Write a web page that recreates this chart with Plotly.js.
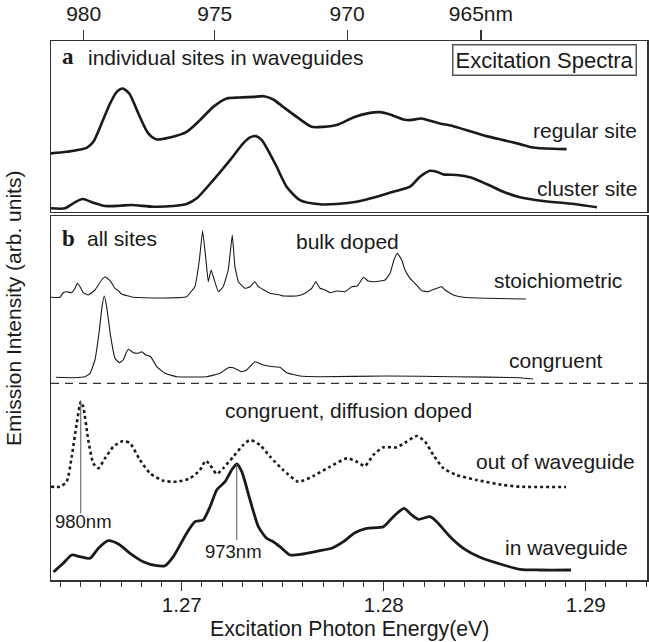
<!DOCTYPE html>
<html>
<head>
<meta charset="utf-8">
<script src="https://cdn.plot.ly/plotly-3.0.1.min.js"></script>
<style>html,body{margin:0;padding:0;background:#fff}#chart{width:649px;height:642px}</style>
</head>
<body>
<div id="chart"></div>
<script>
// ---- data (photon energy in eV, intensity in arbitrary units) ----
const regularE = [1.26352,1.26430,1.26529,1.26562,1.26603,1.26645,1.26678,1.26707,1.26740,1.26785,1.26834,1.26876,1.26942,1.27024,1.27090,1.27156,1.27222,1.27288,1.27354,1.27407,1.27453,1.27502,1.27569,1.27643,1.27700,1.27775,1.27849,1.27932,1.27981,1.28031,1.28097,1.28130,1.28188,1.28229,1.28278,1.28344,1.28427,1.28509,1.28592,1.28674,1.28736,1.28839,1.28905];
const regularSite = [58.2,59.8,63.8,69.8,88.2,108.2,119.8,123.2,118.2,98.2,78.2,72.2,74.2,79.8,91.5,104.8,113.2,114.2,114.8,115.5,112.2,104.8,94.8,84.8,84.8,87.2,94.2,98.8,99.5,97.2,92.2,91.5,93.2,90.8,88.2,85.5,80.5,75.5,71.5,67.5,64.2,62.8,62.5];

const clusterE = [1.26352,1.26422,1.26463,1.26509,1.26562,1.26620,1.26694,1.26752,1.26859,1.26958,1.27024,1.27074,1.27156,1.27239,1.27304,1.27338,1.27367,1.27396,1.27437,1.27470,1.27519,1.27585,1.27684,1.27767,1.27866,1.27965,1.28047,1.28130,1.28179,1.28229,1.28262,1.28295,1.28361,1.28427,1.28509,1.28592,1.28674,1.28777,1.28942,1.29055];
const clusterSite = [3.2,3.2,8.2,12.5,8.8,5.5,5.8,6.5,4.8,5.5,7.5,13.2,31.5,51.5,68.2,74.2,75.5,71.5,57.5,44.8,24.8,11.5,7.2,7.5,9.8,14.8,19.8,24.8,34.8,40.8,39.8,37.2,36.5,34.2,27.5,19.8,14.2,10.8,7.5,4.2];

const stoichE = [1.26352,1.26397,1.26413,1.26430,1.26455,1.26471,1.26483,1.26496,1.26512,1.26537,1.26570,1.26603,1.26620,1.26645,1.26669,1.26686,1.26702,1.26760,1.26876,1.27024,1.27049,1.27065,1.27087,1.27103,1.27118,1.27131,1.27145,1.27156,1.27181,1.27205,1.27230,1.27250,1.27263,1.27280,1.27313,1.27338,1.27362,1.27379,1.27407,1.27437,1.27486,1.27502,1.27569,1.27610,1.27643,1.27664,1.27684,1.27709,1.27734,1.27767,1.27808,1.27841,1.27869,1.27899,1.27923,1.27956,1.28006,1.28031,1.28050,1.28067,1.28089,1.28105,1.28130,1.28154,1.28188,1.28220,1.28262,1.28287,1.28303,1.28344,1.28394,1.28509,1.28704];
const stoichiometric = [282.7,282.7,287.3,288.3,287.3,291.7,296.7,293.3,287.3,285,290,300,303.3,299.3,291.7,289.3,286,282.7,282,283.3,289,293.3,320,349.3,323.3,298.3,310,303.3,288.3,293.3,310,345,313.3,298.3,291.7,293.3,298.3,293.3,290,286.7,285,284,284,286.7,291.7,298.3,291.7,290,287.3,289,288.3,293.3,294,302.7,299,298.3,300,306.7,320,326.7,320,310,301.7,296.7,289.3,288.3,291.7,293.3,290,285,282.7,281.7,281];

const congruentE = [1.26377,1.26463,1.26521,1.26546,1.26570,1.26592,1.26605,1.26616,1.26628,1.26648,1.26669,1.26691,1.26710,1.26727,1.26737,1.26760,1.26785,1.26801,1.26823,1.26846,1.26876,1.26917,1.26975,1.27123,1.27189,1.27230,1.27255,1.27297,1.27321,1.27362,1.27403,1.27453,1.27486,1.27519,1.27585,1.27684,1.28014,1.28344,1.28674,1.28739];
const congruent = [202.7,202.3,203.3,206.7,220,250,273.3,284,273.3,243.3,221.7,217.3,220,228.3,230.7,227.3,226.7,228.3,225,223.3,213.3,206.7,203.3,203.3,206.7,212.3,212.3,208.3,210,218.3,215,213.3,212.7,207.3,204,203.3,204,203.3,202.3,201];

const outE = [1.26352,1.26397,1.26430,1.26455,1.26480,1.26500,1.26512,1.26537,1.26562,1.26587,1.26620,1.26661,1.26710,1.26744,1.26793,1.26843,1.26908,1.26975,1.27041,1.27090,1.27118,1.27140,1.27173,1.27205,1.27255,1.27304,1.27338,1.27387,1.27437,1.27502,1.27577,1.27651,1.27734,1.27819,1.27866,1.27907,1.27948,1.27998,1.28064,1.28113,1.28163,1.28204,1.28245,1.28295,1.28361,1.28460,1.28592,1.28674,1.28902];
const outOfWaveguide = [93.3,93.3,98.3,123.3,156.7,178.3,173.3,140,116.7,111.7,121.7,133.3,139,136.7,120,106.7,99.3,98.3,101.7,110,119.3,115,106,111.7,123.3,135,140,135,123.3,110,98.3,104,113.3,121.7,118.3,114,125,132.7,132.7,138.3,144,138.3,125,111.7,105,100,95,93.3,93];

const inE = [1.26365,1.26413,1.26455,1.26496,1.26546,1.26587,1.26636,1.26686,1.26744,1.26809,1.26876,1.26917,1.26958,1.27024,1.27065,1.27106,1.27140,1.27173,1.27214,1.27247,1.27272,1.27297,1.27338,1.27379,1.27420,1.27453,1.27486,1.27536,1.27601,1.27684,1.27742,1.27800,1.27857,1.27915,1.27998,1.28047,1.28100,1.28138,1.28171,1.28229,1.28262,1.28328,1.28394,1.28476,1.28592,1.28674,1.28773,1.28927];
const inWaveguide = [8,16.7,25,23.3,21.7,31.7,39.3,36,26.7,18.3,14.3,14.3,23.3,46.7,58.3,60,73.3,90,98.3,110,116,108.3,80,53.3,41.7,38.3,33.3,25,26,29.3,31.7,38.3,47.3,51.7,53.3,63.3,71.7,65,60.7,63.3,58.3,43.3,31.7,22.7,15,10.7,10,10];

// wavelength ticks on the top axis (nm)
const nmTicks = [980, 975, 970, 965];
const nmTickText = ['980', '975', '970', '965nm'];
const HC = 1239.84; // eV*nm

// marked peaks
const peakLabels = ['980nm', '973nm'];
const peakEnergy = [1.26500, 1.27272];
const peakTop = [178.3, 116];
const peakBottom = [66.7, 40];

const xRange = [1.263525, 1.29303];

// ---- layout helpers ----
const L = 51, T = 41, W = 596, H = 539;
const px = v => (v - L) / W;
const py = v => (T + H - v) / H;
const FONT = 'Liberation Sans, Arial, Helvetica, sans-serif';
const ink = '#1a1a1a';

function label(text, x, y, xanchor, size, extra) {
  return Object.assign({
    text: text, xref: 'paper', yref: 'paper', x: px(x), y: py(y),
    xanchor: xanchor, yanchor: 'middle', showarrow: false,
    font: {family: FONT, size: size || 21, color: ink}
  }, extra || {});
}

const thick = {color: ink, width: 2.6, shape: 'spline', smoothing: 0.7};

const traces = [
  {x: regularE, y: regularSite, xaxis: 'x2', yaxis: 'y2', mode: 'lines', line: thick},
  {x: clusterE, y: clusterSite, xaxis: 'x2', yaxis: 'y2', mode: 'lines', line: thick},
  {x: stoichE, y: stoichiometric, xaxis: 'x', yaxis: 'y', mode: 'lines', line: {color: ink, width: 1.1, shape: 'spline', smoothing: 0.3}},
  {x: congruentE, y: congruent, xaxis: 'x', yaxis: 'y', mode: 'lines', line: {color: ink, width: 1.1, shape: 'spline', smoothing: 0.3}},
  {x: outE, y: outOfWaveguide, xaxis: 'x', yaxis: 'y', mode: 'lines', line: {color: ink, width: 2.6, dash: 'dot', shape: 'spline', smoothing: 0.6}},
  {x: inE, y: inWaveguide, xaxis: 'x', yaxis: 'y', mode: 'lines', line: {color: ink, width: 2.8, shape: 'spline', smoothing: 0.6}}
];

const frame = {showline: true, linecolor: '#333', linewidth: 1.5, mirror: true, showgrid: false, zeroline: false};

const annotations = [
  label('<b>a</b>', 60, 57, 'left', 22, {font: {family: 'Liberation Serif, Times New Roman, serif', size: 23, color: ink}}),
  label('individual sites in waveguides', 86, 57.5, 'left'),
  label('Excitation Spectra', 544.5, 60.4, 'center', 22, {bordercolor: '#555', borderwidth: 1.5, borderpad: 2}),
  label('regular site', 638.5, 130, 'right'),
  label('cluster site', 638.5, 188, 'right'),
  label('<b>b</b>', 60, 238, 'left', 22, {font: {family: 'Liberation Serif, Times New Roman, serif', size: 23, color: ink}}),
  label('all sites', 85, 238.5, 'left'),
  label('bulk doped', 347, 241, 'center'),
  label('stoichiometric', 624, 280.5, 'right'),
  label('congruent', 605, 360, 'right'),
  label('congruent, diffusion doped', 348.7, 410, 'center'),
  label('out of waveguide', 636.5, 461, 'right'),
  label('in waveguide', 630, 547, 'right'),
  label(peakLabels[0], 52.5, 521.5, 'left', 18.5),
  label(peakLabels[1], 234, 551, 'center', 18.5),
  label('Emission Intensity (arb. units)', 13.5, 308.5, 'center', 21, {textangle: -90}),
  label('Excitation Photon Energy(eV)', 349, 628.5, 'center', 21.3)
];

const shapes = [
  {type: 'line', xref: 'paper', yref: 'y', x0: 0, x1: 1, y0: 196.7, y1: 196.7, line: {color: '#333', width: 1.2, dash: '8px,6px'}}
];
peakEnergy.forEach((e, i) => {
  shapes.push({type: 'line', xref: 'x', yref: 'y', x0: e, x1: e, y0: peakBottom[i], y1: peakTop[i], line: {color: '#555', width: 1}});
});

const layout = {
  width: 649, height: 642,
  margin: {l: L, r: 649 - L - W, t: T, b: 642 - T - H, pad: 0},
  paper_bgcolor: '#fff', plot_bgcolor: '#fff',
  showlegend: false,
  font: {family: FONT, color: ink},
  xaxis: Object.assign({}, frame, {
    anchor: 'y', range: xRange, tick0: 1.27, dtick: 0.01, tickformat: '.2f',
    ticks: 'outside', ticklen: 9, tickwidth: 1.2, tickcolor: '#333',
    ticklabelstandoff: -3,
    tickfont: {family: FONT, size: 20.5, color: ink},
    minor: {tick0: 1.27, dtick: 0.001, ticks: 'outside', ticklen: 5, tickwidth: 1, tickcolor: '#333', showgrid: false}
  }),
  yaxis: Object.assign({}, frame, {anchor: 'x', domain: [0, py(216)], range: [0, 364], showticklabels: false, ticks: ''}),
  xaxis2: Object.assign({}, frame, {
    anchor: 'y2', side: 'top', range: xRange,
    tickmode: 'array', tickvals: nmTicks.map(n => HC / n), ticktext: nmTickText,
    ticks: 'outside', ticklen: 10, tickwidth: 1.2, tickcolor: '#333',
    tickfont: {family: FONT, size: 21, color: ink}
  }),
  yaxis2: Object.assign({}, frame, {anchor: 'x2', domain: [py(211.5), 1], range: [0, 170.8], showticklabels: false, ticks: ''}),
  annotations: annotations,
  shapes: shapes
};

Plotly.newPlot('chart', traces, layout, {displayModeBar: false, staticPlot: true});
</script>
</body>
</html>
